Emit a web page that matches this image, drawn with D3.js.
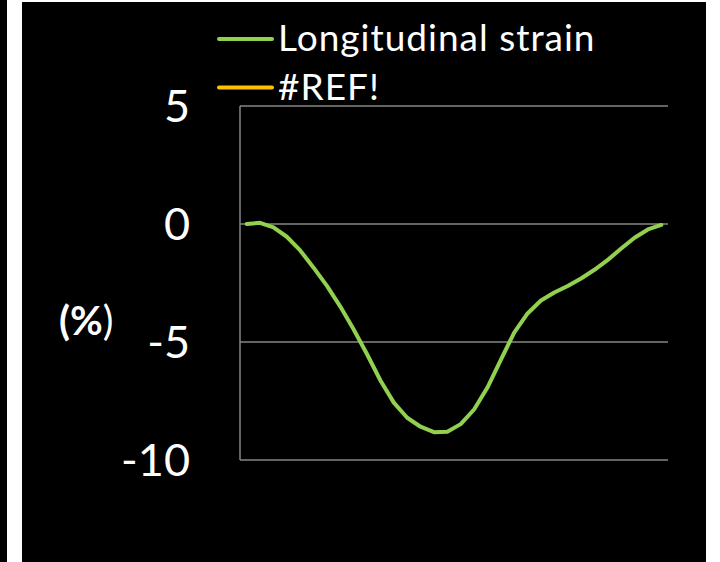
<!DOCTYPE html>
<html>
<head>
<meta charset="utf-8">
<script src="https://cdn.jsdelivr.net/npm/d3@7"></script>
<style>
  html, body { margin: 0; padding: 0; background: #000; }
  svg { display: block; font-family: Lato, "Open Sans", sans-serif; }
</style>
</head>
<body>
<svg id="chart"></svg>
<script>
const width = 720;
const height = 562;

// frame index (one point per frame of the cycle)
const frames = d3.range(1, 33);
// longitudinal strain, %
const strain = [
  0, 0.05, -0.14, -0.54, -1.12, -1.85, -2.62, -3.5, -4.47, -5.52,
  -6.63, -7.57, -8.21, -8.59, -8.82, -8.8, -8.48, -7.86, -6.93, -5.76,
  -4.6, -3.79, -3.24, -2.9, -2.63, -2.31, -1.94, -1.52, -1.04, -0.58,
  -0.23, -0.04
];
const yTicks = [5, 0, -5, -10];
const seriesNames = ["Longitudinal strain", "#REF!"];
const seriesColors = ["#92d050", "#ffc000"];

const svg = d3.select("#chart")
    .attr("width", width)
    .attr("height", height);

// slide frame
svg.append("rect").attr("width", width).attr("height", height).attr("fill", "#000");
svg.append("rect").attr("x", 7).attr("y", 0).attr("width", 15).attr("height", height).attr("fill", "#fff");
svg.append("rect").attr("x", 22).attr("y", 0).attr("width", width - 22).attr("height", 2).attr("fill", "#fff");
svg.append("rect").attr("x", 706).attr("y", 0).attr("width", 14).attr("height", height).attr("fill", "#fff");

const plot = {left: 240, right: 668, top: 106, bottom: 460};

const x = d3.scaleBand()
    .domain(frames)
    .range([plot.left, plot.right]);

const y = d3.scaleLinear()
    .domain([-10, 5])
    .range([plot.bottom, plot.top]);

// gridlines
svg.append("g")
    .selectAll("line")
    .data(yTicks)
    .enter().append("line")
    .attr("x1", plot.left)
    .attr("x2", plot.right)
    .attr("y1", d => y(d))
    .attr("y2", d => y(d))
    .attr("stroke", "#868686")
    .attr("stroke-width", 1.5);

// vertical axis line
svg.append("line")
    .attr("x1", plot.left).attr("x2", plot.left)
    .attr("y1", plot.top).attr("y2", plot.bottom)
    .attr("stroke", "#868686")
    .attr("stroke-width", 1.5);

// tick labels
svg.append("g")
    .selectAll("text")
    .data(yTicks)
    .enter().append("text")
    .attr("x", 190)
    .attr("y", d => y(d))
    .attr("dy", "0.36em")
    .attr("text-anchor", "end")
    .attr("fill", "#fff")
    .attr("font-size", 45)
    .text(d => d);

// axis title
const title = svg.append("text")
    .attr("x", 59)
    .attr("y", 335)
    .attr("fill", "#fff")
    .attr("font-size", 40);
title.append("tspan").attr("font-weight", "bold").text("(%");
title.append("tspan").text(")");

// strain line
const line = d3.line()
    .x((d, i) => x(frames[i]) + x.bandwidth() / 2)
    .y(d => y(d));

svg.append("path")
    .datum(strain)
    .attr("d", line)
    .attr("fill", "none")
    .attr("stroke", seriesColors[0])
    .attr("stroke-width", 4)
    .attr("stroke-linejoin", "round")
    .attr("stroke-linecap", "round");

// legend
const legend = svg.append("g")
    .selectAll("g")
    .data(seriesNames)
    .enter().append("g")
    .attr("transform", (d, i) => `translate(0, ${39 + i * 48.5})`);

legend.append("line")
    .attr("x1", 219).attr("x2", 272)
    .attr("stroke", (d, i) => seriesColors[i])
    .attr("stroke-width", 4)
    .attr("stroke-linecap", "round");

legend.append("text")
    .attr("x", 278)
    .attr("dy", "0.33em")
    .attr("fill", "#fff")
    .attr("font-size", 37)
    .attr("letter-spacing", 1)
    .text(d => d);
</script>
</body>
</html>
